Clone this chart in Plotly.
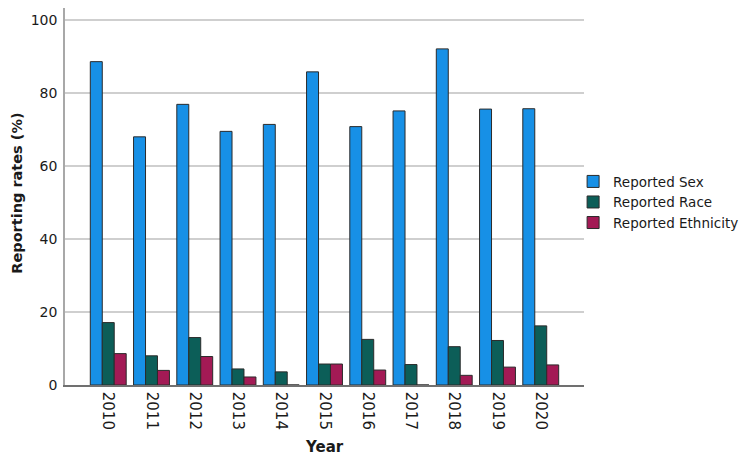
import plotly.graph_objects as go

years = ["2010", "2011", "2012", "2013", "2014", "2015", "2016", "2017", "2018", "2019", "2020"]
reported_sex = [88.6, 68.0, 76.9, 69.5, 71.4, 85.8, 70.8, 75.1, 92.1, 75.6, 75.7]
reported_race = [17.1, 8.0, 13.0, 4.4, 3.6, 5.75, 12.5, 5.6, 10.5, 12.2, 16.2]
reported_ethnicity = [8.6, 4.0, 7.8, 2.2, 0.0, 5.75, 4.1, 0.0, 2.65, 4.9, 5.5]

series_names = ["Reported Sex", "Reported Race", "Reported Ethnicity"]
series_colors = ["#1790e6", "#0c5e58", "#a31a55"]
y_ticks = [0, 20, 40, 60, 80, 100]

FONT = "DejaVu Sans"

fig = go.Figure()
for name, vals, col in zip(series_names, [reported_sex, reported_race, reported_ethnicity], series_colors):
    fig.add_trace(go.Bar(
        x=years, y=vals, name=name,
        marker=dict(color=col, line=dict(color="#2b2b2b", width=1)),
    ))

# The page adds an 8px body margin, so the figure is sized to fit the 749x459 window.
fig.update_layout(
    width=741, height=451,
    margin=dict(l=57, r=165, t=0, b=74, autoexpand=False),
    paper_bgcolor="white", plot_bgcolor="white",
    barmode="group", bargap=0.17, bargroupgap=0,
    font=dict(family=FONT, size=14, color="#1a1a1a"),
    showlegend=True,
    legend=dict(
        x=0.979, y=0.485, xanchor="left", yanchor="middle",
        font=dict(family=FONT, size=13.5, color="#1a1a1a"),
        bgcolor="rgba(0,0,0,0)", borderwidth=0, tracegroupgap=0,
    ),
    xaxis=dict(
        type="category", range=[-1.0, 11.0], automargin=False,
        tickangle=90, tickfont=dict(size=15, family=FONT),
        showline=True, linecolor="#707070", linewidth=1.5,
        showgrid=False, ticks="outside", ticklen=2, tickcolor="rgba(0,0,0,0)", zeroline=False,
    ),
    yaxis=dict(
        range=[0, 103.3], tickvals=y_ticks, ticktext=[str(v) for v in y_ticks], automargin=False,
        tickfont=dict(size=14, family=FONT),
        showline=True, linecolor="#a8a8a8", linewidth=1.5,
        showgrid=True, gridcolor="#cfcfcf", gridwidth=1.5,
        zeroline=False, ticks="outside", ticklen=3, tickcolor="rgba(0,0,0,0)",
    ),
    annotations=[
        dict(text="<b>Year</b>", xref="paper", yref="paper", x=0.5, y=-0.1645,
             xanchor="center", yanchor="middle", showarrow=False,
             font=dict(size=15, family=FONT, color="#1a1a1a")),
        dict(text="<b>Reporting rates (%)</b>", xref="paper", yref="paper", x=-0.0925, y=0.51,
             xanchor="center", yanchor="middle", textangle=-90, showarrow=False,
             font=dict(size=14.5, family=FONT, color="#1a1a1a")),
    ],
)

fig.write_html("out.html")
